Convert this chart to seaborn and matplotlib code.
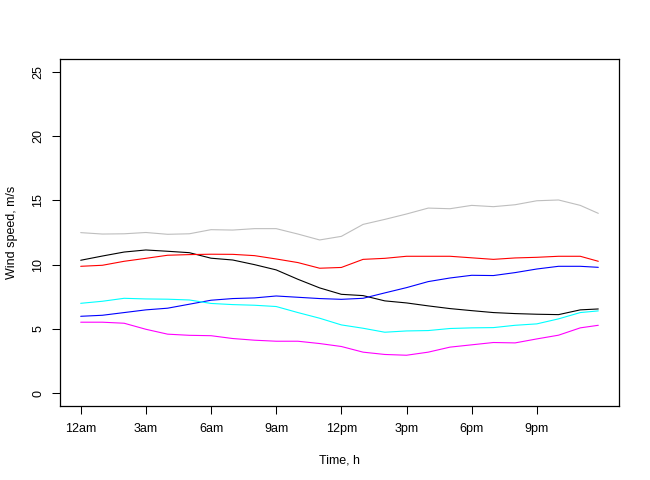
import numpy as np
import pandas as pd
import matplotlib
matplotlib.use('Agg')
import matplotlib.pyplot as plt
import seaborn as sns

# hours of the day (10-min data, last sample at 23:50)
hours = [0, 1, 2, 3, 4, 5, 6, 7, 8, 9, 10, 11, 12, 13, 14, 15, 16, 17,
         18, 19, 20, 21, 22, 23, 23.83]

black = [10.34, 10.67, 10.98, 11.14, 11.04, 10.93, 10.50, 10.36, 10.00, 9.59,
         8.86, 8.19, 7.69, 7.59, 7.18, 7.02, 6.79, 6.58, 6.42, 6.27, 6.19,
         6.14, 6.11, 6.48, 6.55]
red = [9.87, 9.95, 10.26, 10.49, 10.73, 10.78, 10.81, 10.80, 10.70, 10.44,
       10.16, 9.72, 9.78, 10.41, 10.49, 10.65, 10.65, 10.65, 10.53, 10.41,
       10.52, 10.57, 10.65, 10.65, 10.26]
gray = [12.49, 12.38, 12.40, 12.50, 12.36, 12.40, 12.72, 12.69, 12.80, 12.80,
        12.38, 11.92, 12.20, 13.13, 13.52, 13.94, 14.40, 14.35, 14.61, 14.51,
        14.66, 14.97, 15.03, 14.61, 13.99]
blue = [5.98, 6.06, 6.27, 6.48, 6.61, 6.92, 7.23, 7.36, 7.41, 7.56, 7.46,
        7.36, 7.30, 7.38, 7.80, 8.21, 8.68, 8.96, 9.17, 9.15, 9.38, 9.66,
        9.87, 9.87, 9.79]
cyan = [6.99, 7.15, 7.38, 7.33, 7.31, 7.25, 6.98, 6.89, 6.84, 6.74, 6.27,
        5.83, 5.31, 5.05, 4.74, 4.84, 4.87, 5.03, 5.08, 5.10, 5.28, 5.39,
        5.78, 6.27, 6.40]
magenta = [5.52, 5.52, 5.44, 4.97, 4.59, 4.50, 4.47, 4.25, 4.12, 4.04, 4.04,
           3.86, 3.63, 3.19, 3.01, 2.95, 3.19, 3.58, 3.76, 3.94, 3.91, 4.22,
           4.51, 5.08, 5.28]

tick_hours = [0, 3, 6, 9, 12, 15, 18, 21]
tick_labels = ['12am', '3am', '6am', '9am', '12pm', '3pm', '6pm', '9pm']

series = {'black': black, 'red': red, 'gray': gray,
          'blue': blue, 'cyan': cyan, 'magenta': magenta}
colors = {'black': '#000000', 'red': '#FF0000', 'gray': '#BEBEBE',
          'blue': '#0000FF', 'cyan': '#00FFFF', 'magenta': '#FF00FF'}

df = pd.concat([pd.DataFrame({'hour': hours, 'speed': v, 'series': k})
                for k, v in series.items()], ignore_index=True)

sns.set_style('white')
plt.rcParams['font.family'] = ['Liberation Sans', 'DejaVu Sans']
plt.rcParams['text.color'] = 'black'
plt.rcParams['axes.labelcolor'] = 'black'
plt.rcParams['xtick.color'] = 'black'
plt.rcParams['ytick.color'] = 'black'

fig = plt.figure(figsize=(6.5, 4.8), dpi=100)
ax = fig.add_axes([60 / 650, 1 - 406 / 480, 559 / 650, 347 / 480])

sns.lineplot(data=df, x='hour', y='speed', hue='series', palette=colors,
             linewidth=0.8, legend=False, ax=ax)

xr = hours[-1] - hours[0]
ax.set_xlim(hours[0] - 0.04 * xr, hours[-1] + 0.04 * xr)
ax.set_ylim(-1, 26)
ax.set_xticks(tick_hours)
ax.set_xticklabels(tick_labels)
ax.set_yticks([0, 5, 10, 15, 20, 25])
for lab in ax.get_yticklabels():
    lab.set_rotation(90)
    lab.set_va('center')

ax.tick_params(axis='both', direction='out', length=5.5, width=0.75,
               colors='black', labelsize=9, bottom=True, left=True)
ax.tick_params(axis='x', pad=7)
ax.tick_params(axis='y', pad=6)
for sp in ax.spines.values():
    sp.set_color('black')
    sp.set_linewidth(0.9)
    sp.set_visible(True)

ax.set_xlabel('Time, h', fontsize=9, labelpad=14)
ax.set_ylabel('Wind speed, m/s', fontsize=9, labelpad=10)

fig.savefig('out.png', dpi=100)
